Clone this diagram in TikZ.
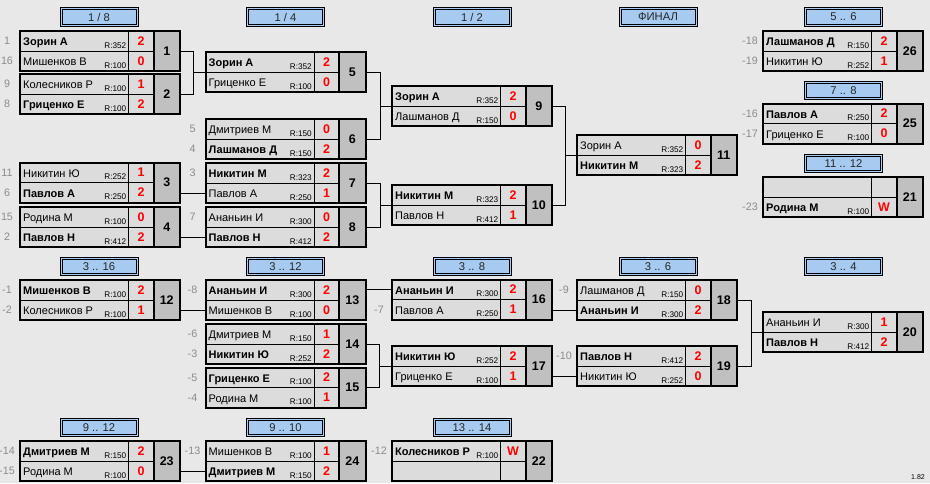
\documentclass[tikz,border=0pt]{standalone}
\usepackage{fontspec}
\setmainfont{Liberation Sans}
\definecolor{bg}{RGB}{232,232,232}
\definecolor{cell}{RGB}{220,220,220}
\definecolor{numgray}{RGB}{192,192,192}
\definecolor{hdr}{RGB}{166,202,240}
\definecolor{seedgray}{RGB}{140,140,140}
\definecolor{scorered}{RGB}{255,0,0}
\tikzset{
 conn/.style={line width=1pt, black},
 namecell/.style={draw=black, line width=0.8pt, fill=cell, minimum width=108.5pt, minimum height=20pt, inner sep=0pt, outer sep=0pt, anchor=north west},
 scorecell/.style={draw=black, line width=0.8pt, fill=cell, minimum width=25pt, minimum height=20pt, inner sep=0pt, outer sep=0pt, anchor=north west},
 numcell/.style={fill=numgray, minimum width=26.5pt, minimum height=40pt, inner sep=0pt, outer sep=0pt, anchor=north west, font=\fontsize{12.5}{14}\selectfont\bfseries},
 mframe/.style={draw=black, line width=2pt, minimum width=160pt, minimum height=40pt, inner sep=0pt, outer sep=0pt},
 nametext/.style={anchor=base west, inner sep=0pt, xshift=3pt, yshift=5.2pt},
 rating/.style={anchor=base east, inner sep=0pt, font=\fontsize{8.2}{9}\selectfont, xshift=-2pt, yshift=3pt},
 scoretext/.style={inner sep=0pt, text=scorered, font=\fontsize{12.5}{14}\selectfont\bfseries},
 seedtext/.style={inner sep=0pt, text=seedgray, font=\fontsize{10.75}{12}\selectfont},
 hdrbox/.style={draw=black, line width=0.8pt, fill=hdr, minimum width=78pt, minimum height=18.5pt, inner sep=0pt, font=\fontsize{11.25}{13}\selectfont, text={black!85}},
}
\newcommand\mtch[4]{%
 \node[namecell] (m#1a) at (#2,#3) {};
 \node[namecell] (m#1b) at (#2,#3+20) {};
 \node[scorecell] (m#1ac) at (#2+108.5,#3) {};
 \node[scorecell] (m#1bc) at (#2+108.5,#3+20) {};
 \node[numcell] (m#1n) at (#2+133.5,#3) {#4};
 \node[mframe] (m#1) at (#2+80,#3+20) {};
 \draw[line width=2pt] (m#1n.north west) -- (m#1n.south west);
}
\newcommand\plr[7]{%
 \node[nametext, font=\fontsize{11}{12}\selectfont#6] (m#1#2t) at (m#1#2.south west) {#3};
 \node[rating] (m#1#2r) at (m#1#2.south east) {R:#4};
 \node[scoretext] (m#1#2s) at (m#1#2c) {#5};
 \if\relax\detokenize{#7}\relax\else\node[seedtext] (m#1#2d) at ([xshift=-13pt]m#1#2.west) {#7};\fi
}
\newcommand\hdr[4]{%
 \node[hdrbox] (h#1) at (#2,#3) {#4};
 \draw[line width=0.8pt] ([xshift=2.5pt,yshift=-2.5pt]h#1.north west) rectangle ([xshift=-2.5pt,yshift=2.5pt]h#1.south east);
}
\begin{document}
\begin{tikzpicture}[x=1pt,y=-1pt]
\useasboundingbox (0,0) rectangle (930,483);
\fill[bg] (0,0) rectangle (930,483);
% headers
\hdr{a}{99}{17}{1 / 8}
\hdr{b}{285.5}{17}{1 / 4}
\hdr{c}{472}{17}{1 / 2}
\hdr{d}{658}{17}{ФИНАЛ}
\hdr{e}{843.5}{17}{5 .. 6}
\hdr{f}{843.5}{90.5}{7 .. 8}
\hdr{g}{843.5}{163.5}{11 .. 12}
\hdr{i}{99}{266.5}{3 .. 16}
\hdr{j}{285.5}{266.5}{3 .. 12}
\hdr{k}{472}{266.5}{3 .. 8}
\hdr{l}{658}{266.5}{3 .. 6}
\hdr{o}{843.5}{266.5}{3 .. 4}
\hdr{p}{99}{427.5}{9 .. 12}
\hdr{q}{285.5}{427.5}{9 .. 10}
\hdr{r}{472}{427.5}{13 .. 14}
% matches
\mtch{1}{20}{31}{1}
\plr{1}{a}{Зорин А}{352}{2}{\bfseries}{1}
\plr{1}{b}{Мишенков В}{100}{0}{}{16}
\mtch{2}{20}{74}{2}
\plr{2}{a}{Колесников Р}{100}{1}{}{9}
\plr{2}{b}{Гриценко Е}{100}{2}{\bfseries}{8}
\mtch{3}{20}{162.5}{3}
\plr{3}{a}{Никитин Ю}{252}{1}{}{11}
\plr{3}{b}{Павлов А}{250}{2}{\bfseries}{6}
\mtch{4}{20}{207}{4}
\plr{4}{a}{Родина М}{100}{0}{}{15}
\plr{4}{b}{Павлов Н}{412}{2}{\bfseries}{2}
\mtch{5}{205.5}{52}{5}
\plr{5}{a}{Зорин А}{352}{2}{\bfseries}{}
\plr{5}{b}{Гриценко Е}{100}{0}{}{}
\mtch{6}{205.5}{119}{6}
\plr{6}{a}{Дмитриев М}{150}{0}{}{5}
\plr{6}{b}{Лашманов Д}{150}{2}{\bfseries}{4}
\mtch{7}{205.5}{163}{7}
\plr{7}{a}{Никитин М}{323}{2}{\bfseries}{3}
\plr{7}{b}{Павлов А}{250}{1}{}{}
\mtch{8}{205.5}{207}{8}
\plr{8}{a}{Ананьин И}{300}{0}{}{7}
\plr{8}{b}{Павлов Н}{412}{2}{\bfseries}{}
\mtch{9}{392}{86}{9}
\plr{9}{a}{Зорин А}{352}{2}{\bfseries}{}
\plr{9}{b}{Лашманов Д}{150}{0}{}{}
\mtch{10}{392}{185}{10}
\plr{10}{a}{Никитин М}{323}{2}{\bfseries}{}
\plr{10}{b}{Павлов Н}{412}{1}{}{}
\mtch{11}{577}{135}{11}
\plr{11}{a}{Зорин А}{352}{0}{}{}
\plr{11}{b}{Никитин М}{323}{2}{\bfseries}{}
\mtch{26}{763}{31}{26}
\plr{26}{a}{Лашманов Д}{150}{2}{\bfseries}{-18}
\plr{26}{b}{Никитин Ю}{252}{1}{}{-19}
\mtch{25}{763}{103.5}{25}
\plr{25}{a}{Павлов А}{250}{2}{\bfseries}{-16}
\plr{25}{b}{Гриценко Е}{100}{0}{}{-17}
\mtch{21}{763}{177}{21}
\plr{21}{b}{Родина М}{100}{W}{\bfseries}{-23}
\mtch{12}{20}{280}{12}
\plr{12}{a}{Мишенков В}{100}{2}{\bfseries}{-1}
\plr{12}{b}{Колесников Р}{100}{1}{}{-2}
\mtch{13}{205.5}{280}{13}
\plr{13}{a}{Ананьин И}{300}{2}{\bfseries}{-8}
\plr{13}{b}{Мишенков В}{100}{0}{}{}
\mtch{14}{205.5}{324}{14}
\plr{14}{a}{Дмитриев М}{150}{1}{}{-6}
\plr{14}{b}{Никитин Ю}{252}{2}{\bfseries}{-3}
\mtch{15}{205.5}{367.5}{15}
\plr{15}{a}{Гриценко Е}{100}{2}{\bfseries}{-5}
\plr{15}{b}{Родина М}{100}{1}{}{-4}
\mtch{16}{392}{279.5}{16}
\plr{16}{a}{Ананьин И}{300}{2}{\bfseries}{}
\plr{16}{b}{Павлов А}{250}{1}{}{-7}
\mtch{17}{392}{346}{17}
\plr{17}{a}{Никитин Ю}{252}{2}{\bfseries}{}
\plr{17}{b}{Гриценко Е}{100}{1}{}{}
\mtch{18}{577}{280}{18}
\plr{18}{a}{Лашманов Д}{150}{0}{}{-9}
\plr{18}{b}{Ананьин И}{300}{2}{\bfseries}{}
\mtch{19}{577}{346}{19}
\plr{19}{a}{Павлов Н}{412}{2}{\bfseries}{-10}
\plr{19}{b}{Никитин Ю}{252}{0}{}{}
\mtch{20}{763}{312}{20}
\plr{20}{a}{Ананьин И}{300}{1}{}{}
\plr{20}{b}{Павлов Н}{412}{2}{\bfseries}{}
\mtch{23}{20}{441}{23}
\plr{23}{a}{Дмитриев М}{150}{2}{\bfseries}{-14}
\plr{23}{b}{Родина М}{100}{0}{}{-15}
\mtch{24}{205.5}{441}{24}
\plr{24}{a}{Мишенков В}{100}{1}{}{-13}
\plr{24}{b}{Дмитриев М}{150}{2}{\bfseries}{}
\mtch{22}{392}{441}{22}
\plr{22}{a}{Колесников Р}{100}{W}{\bfseries}{-12}
% connectors
\draw[conn] (m1.east) -- ++(13,0) |- (m2.east);
\draw[conn] (m5.west) -- ++(-12.5,0);
\draw[conn] (m7b.west) -- (m7b.west -| m3.east);
\draw[conn] (m8b.west) -- (m8b.west -| m4.east);
\draw[conn] (m5.east) -- ++(14.5,0) |- (m6.east);
\draw[conn] (m9.west) -- ++(-12,0);
\draw[conn] (m7.east) -- ++(14.5,0) |- (m8.east);
\draw[conn] (m10.west) -- ++(-12,0);
\draw[conn] (m9.east) -- ++(13,0) |- (m10.east);
\draw[conn] (m11.west) -- ++(-12,0);
\draw[conn] (m13b.west) -- (m13b.west -| m12.east);
\draw[conn] (m16a.west) -- (m16a.west -| m13.east);
\draw[conn] (m14.east) -- ++(13.5,0) |- (m15.east);
\draw[conn] (m17.west) -- ++(-13,0);
\draw[conn] (m18b.west) -- (m18b.west -| m16.east);
\draw[conn] (m19b.west) -- (m19b.west -| m17.east);
\draw[conn] (m18.east) -- ++(14,0) |- (m19.east);
\draw[conn] (m20.west) -- ++(-12,0);
\draw[conn] (m24b.west) -- (m24b.west -| m23.east);
\node[anchor=base east, inner sep=0pt, font=\fontsize{7}{8}\selectfont] (ver) at (925,479) {1.82};
\end{tikzpicture}
\end{document}
